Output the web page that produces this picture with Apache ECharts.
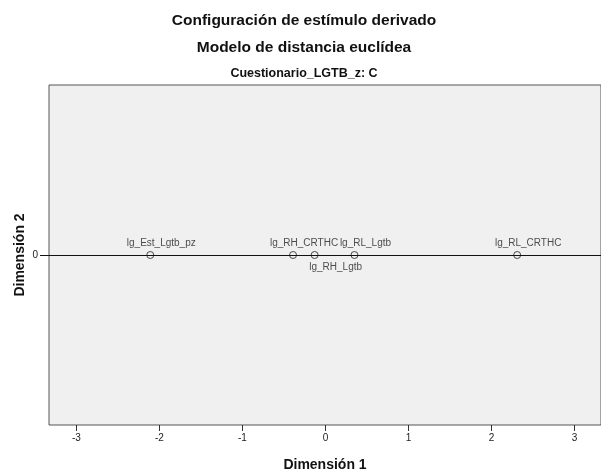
<!DOCTYPE html>
<html><head><meta charset="utf-8">
<script src="https://cdn.jsdelivr.net/npm/echarts@6/dist/echarts.min.js"></script>
<style>html,body{margin:0;padding:0;background:#fff}#c{width:601px;height:470px}</style>
</head><body><div id="c"></div>
<script>
var names = ['lg_Est_Lgtb_pz', 'lg_RH_CRTHC', 'lg_RH_Lgtb', 'lg_RL_Lgtb', 'lg_RL_CRTHC'];
var dim1 = [-2.11, -0.39, -0.13, 0.35, 2.31];
var dim2 = [0, 0, 0, 0, 0];
var labelBelow = [false, false, true, false, false];
var xTicks = [-3, -2, -1, 0, 1, 2, 3];
var yTicks = [0];

var font = 'Liberation Sans, Arial, sans-serif';
var data = names.map(function (n, i) {
  return {
    name: n,
    value: [dim1[i], dim2[i]],
    label: labelBelow[i]
      ? { position: 'bottom', offset: [21, -1] }
      : { position: 'top', offset: [11, 1] }
  };
});

var chart = echarts.init(document.getElementById('c'), null, { renderer: 'canvas' });
chart.setOption({
  animation: false,
  title: [
    { text: 'Configuración de estímulo derivado', left: 299, top: 8, textAlign: 'center',
      textStyle: { fontFamily: font, fontSize: 15.5, fontWeight: 'bold', color: '#111' } },
    { text: 'Modelo de distancia euclídea', left: 299, top: 35, textAlign: 'center',
      textStyle: { fontFamily: font, fontSize: 15.5, fontWeight: 'bold', color: '#111' } },
    { text: 'Cuestionario_LGTB_z: C', left: 299, top: 62, textAlign: 'center',
      textStyle: { fontFamily: font, fontSize: 12.5, fontWeight: 'bold', color: '#111' } }
  ],
  grid: { left: 49, top: 85, width: 552, height: 340, show: true, outerBoundsMode: 'none',
    containLabel: false,
    backgroundColor: '#f0f0f0', borderColor: '#555', borderWidth: 1 },
  xAxis: {
    type: 'value', min: -3.33, max: 3.32,
    name: 'Dimensión 1', nameLocation: 'middle', nameGap: 33,
    nameTextStyle: { fontFamily: font, fontSize: 14, fontWeight: 'bold', color: '#111' },
    axisLine: { show: false, onZero: false },
    splitLine: { show: false },
    axisTick: { show: true, length: 6, customValues: xTicks, lineStyle: { color: '#333' } },
    axisLabel: { customValues: xTicks, margin: 8, fontFamily: font, fontSize: 10, color: '#222' }
  },
  yAxis: {
    type: 'value', min: -1, max: 1,
    name: 'Dimensión 2', nameLocation: 'middle', nameGap: 22, nameMoveOverlap: false,
    nameTextStyle: { fontFamily: font, fontSize: 14, fontWeight: 'bold', color: '#111' },
    axisLine: { show: false, onZero: false },
    splitLine: { show: false },
    axisTick: { show: true, length: 9, customValues: yTicks, lineStyle: { color: '#111' } },
    axisLabel: { customValues: yTicks, margin: 11, fontFamily: font, fontSize: 10, color: '#222' }
  },
  series: [{
    type: 'scatter',
    data: data,
    symbol: 'circle',
    symbolSize: 7,
    itemStyle: { color: 'rgba(0,0,0,0)', borderColor: '#222', borderWidth: 1 },
    label: { show: true, formatter: '{b}', fontFamily: font, fontSize: 10, color: '#222', distance: 4 },
    markLine: {
      silent: true, symbol: ['none', 'none'], label: { show: false },
      lineStyle: { color: '#111', width: 1, type: 'solid' },
      data: [{ yAxis: 0 }]
    },
    z: 3
  }]
});
</script>
</body></html>
